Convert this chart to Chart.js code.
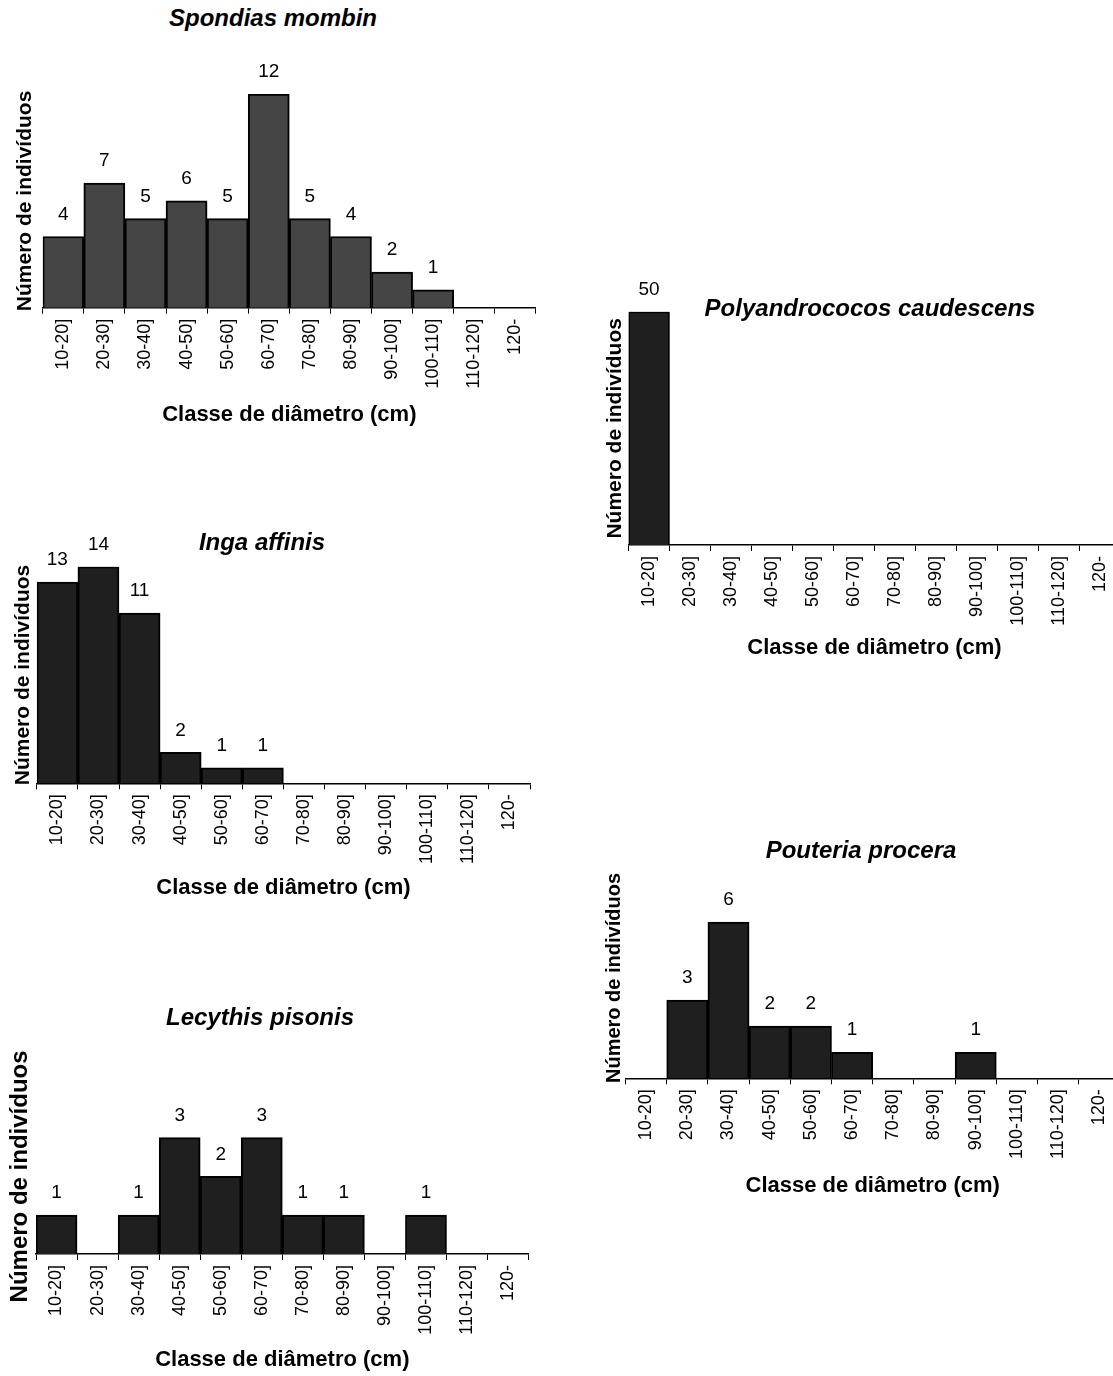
<!DOCTYPE html>
<html>
<head>
<meta charset="utf-8">
<script src="https://cdn.jsdelivr.net/npm/chart.js@4.4.1/dist/chart.umd.min.js"></script>
<style>
  html, body { margin: 0; padding: 0; background: #fff; }
  body { position: relative; width: 1113px; height: 1376px; overflow: hidden; }
  canvas { position: absolute; }
  .species {
    position: absolute;
    transform: translate(-50%, -50%);
    white-space: nowrap;
    font: italic bold 24px 'Liberation Sans', Arial, sans-serif;
    color: #000;
  }
</style>
</head>
<body>
<script>
// diameter classes (x categories)
const classes = ['10-20]', '20-30]', '30-40]', '40-50]', '50-60]', '60-70]',
                 '70-80]', '80-90]', '90-100]', '100-110]', '110-120]', '120-'];

// number of individuals per class
const spondiasMombin = [4, 7, 5, 6, 5, 12, 5, 4, 2, 1, 0, 0];
const polyandrococosCaudescens = [50, 0, 0, 0, 0, 0, 0, 0, 0, 0, 0, 0];
const ingaAffinis = [13, 14, 11, 2, 1, 1, 0, 0, 0, 0, 0, 0];
const lecythisPisonis = [1, 0, 1, 3, 2, 3, 1, 1, 0, 1, 0, 0];
const pouteriaProcera = [0, 3, 6, 2, 2, 1, 0, 0, 1, 0, 0, 0];

const xTitle = 'Classe de diâmetro (cm)';
const yTitle = 'Número de indivíduos';
const FONT = "'Liberation Sans', Arial, sans-serif";

Chart.defaults.font.family = FONT;
Chart.defaults.color = '#000';

// prints the count above every non-empty bar
const valueLabels = {
  id: 'valueLabels',
  afterDatasetsDraw(chart) {
    const ctx = chart.ctx;
    const values = chart.data.datasets[0].data;
    ctx.save();
    ctx.font = '19px ' + FONT;
    ctx.fillStyle = '#000';
    ctx.textAlign = 'center';
    ctx.textBaseline = 'middle';
    chart.getDatasetMeta(0).data.forEach((bar, i) => {
      if (values[i] > 0) ctx.fillText(String(values[i]), bar.x, bar.y - 22);
    });
    ctx.restore();
  }
};

function makePanel(p) {
  const canvas = document.createElement('canvas');
  canvas.width = p.w;
  canvas.height = p.h;
  canvas.style.left = p.left + 'px';
  canvas.style.top = p.top + 'px';
  canvas.style.width = p.w + 'px';
  canvas.style.height = p.h + 'px';
  document.body.appendChild(canvas);

  const t = document.createElement('div');
  t.className = 'species';
  t.textContent = p.name;
  t.style.left = p.tx + 'px';
  t.style.top = p.ty + 'px';
  document.body.appendChild(t);

  new Chart(canvas.getContext('2d'), {
    type: 'bar',
    data: {
      labels: classes,
      datasets: [{
        data: p.values,
        backgroundColor: p.fill,
        borderColor: '#000',
        borderWidth: 2,
        barPercentage: 1,
        categoryPercentage: 1
      }]
    },
    options: {
      responsive: false,
      animation: false,
      devicePixelRatio: 1,
      layout: { padding: { left: 0, top: p.padTop, right: p.padRight, bottom: 0 } },
      plugins: { legend: { display: false }, tooltip: { enabled: false } },
      scales: {
        x: {
          grid: { display: true, drawOnChartArea: false, tickLength: 6, color: '#000', lineWidth: 1, offset: true },
          border: { display: true, color: '#000', width: 1.5 },
          ticks: { autoSkip: false, minRotation: 90, maxRotation: 90, padding: 5, color: '#000', font: { size: 18 } },
          title: { display: true, text: xTitle, color: '#000', font: { size: 22, weight: 'bold' },
                   padding: { top: 0, bottom: p.xTitlePad } },
          afterFit: s => { s.height = p.xHeight; }
        },
        y: {
          min: 0,
          max: p.yMax,
          grid: { display: false },
          border: { display: false },
          ticks: { display: false },
          title: { display: true, text: yTitle, color: '#000', font: { size: p.yFont, weight: 'bold' },
                   padding: { top: p.yTitlePad, bottom: 0 } },
          afterFit: s => { s.width = p.yWidth; }
        }
      }
    },
    plugins: [valueLabels]
  });
}

makePanel({ name: 'Spondias mombin', values: spondiasMombin, fill: '#454545', yMax: 12,
  left: -20, top: 40, w: 576, h: 400, tx: 273, ty: 18,
  padTop: 54.1, padRight: 20.1, yWidth: 62.7, yTitlePad: 32.4, yFont: 21, xHeight: 132.3, xTitlePad: 11.8 });

makePanel({ name: 'Polyandrococos caudescens', values: polyandrococosCaudescens, fill: '#1f1f1f', yMax: 50,
  left: 560, top: 270, w: 580, h: 405, tx: 870, ty: 308,
  padTop: 41.7, padRight: 19.5, yWidth: 68.5, yTitlePad: 42.4, yFont: 21, xHeight: 130, xTitlePad: 13.8 });

makePanel({ name: 'Inga affinis', values: ingaAffinis, fill: '#1f1f1f', yMax: 14,
  left: -20, top: 520, w: 570, h: 390, tx: 262, ty: 542,
  padTop: 46.7, padRight: 20, yWidth: 56.8, yTitlePad: 30.4, yFont: 21, xHeight: 126.7, xTitlePad: 8.5 });

makePanel({ name: 'Lecythis pisonis', values: lecythisPisonis, fill: '#1f1f1f', yMax: 4,
  left: -20, top: 1030, w: 570, h: 346, tx: 260, ty: 1017,
  padTop: 68.8, padRight: 21.4, yWidth: 56, yTitlePad: 25.6, yFont: 24, xHeight: 122, xTitlePad: 2.8 });

makePanel({ name: 'Pouteria procera', values: pouteriaProcera, fill: '#1f1f1f', yMax: 7.7,
  left: 560, top: 860, w: 580, h: 355, tx: 861, ty: 850,
  padTop: 17.7, padRight: 20.1, yWidth: 65.5, yTitlePad: 42, yFont: 20, xHeight: 136.7, xTitlePad: 15.8 });
</script>
</body>
</html>
